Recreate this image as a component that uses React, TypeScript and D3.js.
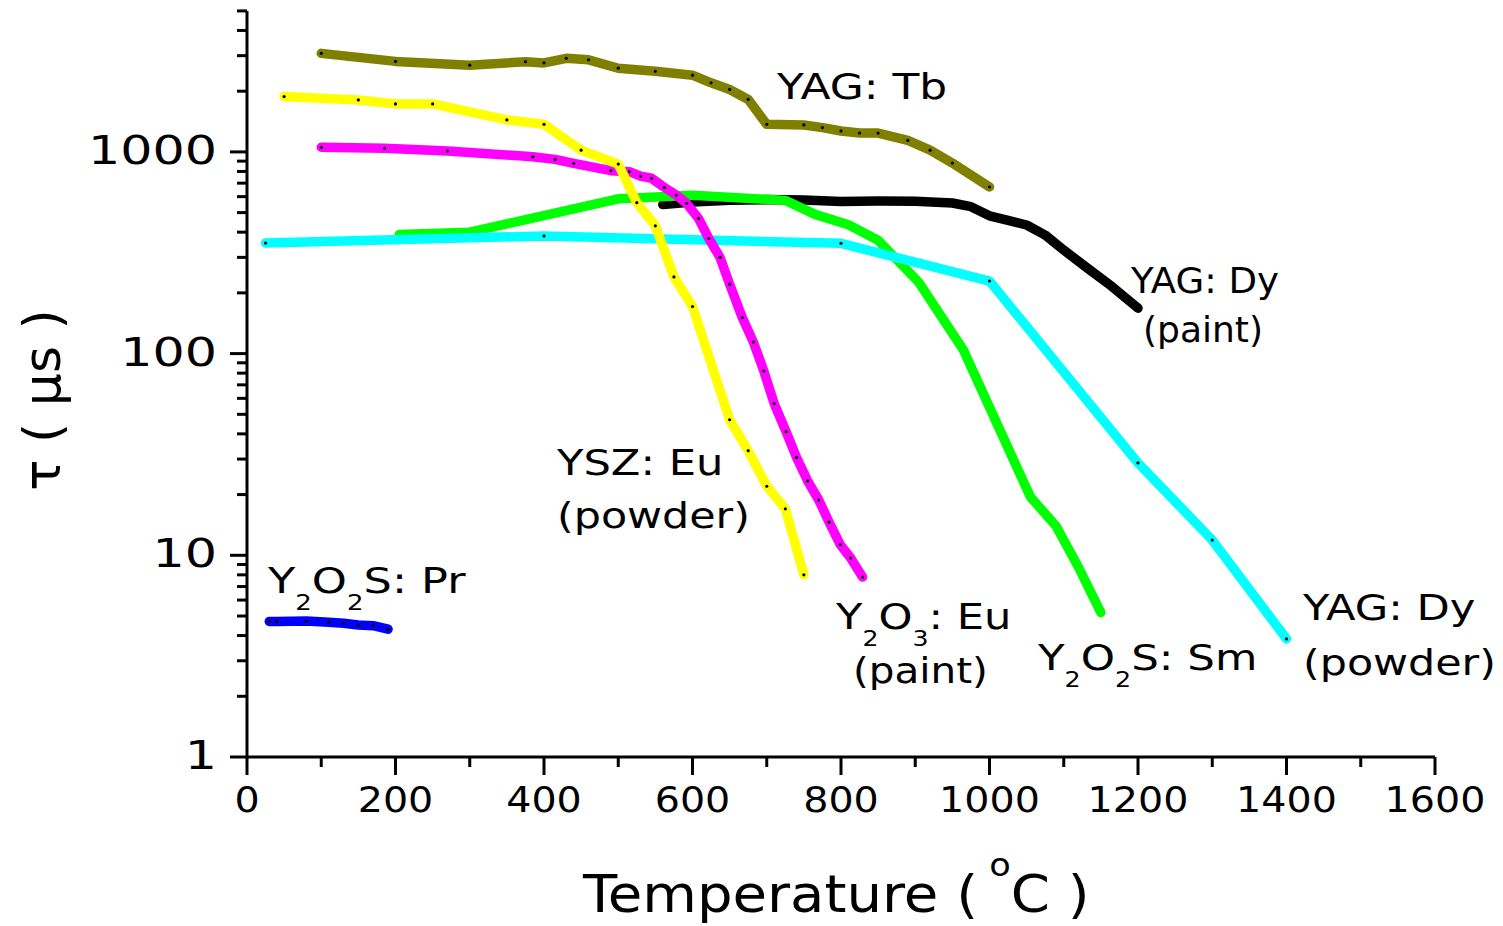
import * as d3 from 'd3';

// temperature (°C) and lifetime (µs)
const tbT = [100, 200, 300, 375, 400, 430, 460, 500, 550, 600, 625, 650, 675, 700, 750, 775, 800, 825, 850, 890, 920, 950, 1000];
const tbV = [3080, 2810, 2690, 2800, 2760, 2910, 2860, 2600, 2510, 2400, 2200, 2040, 1820, 1370, 1360, 1320, 1270, 1240, 1240, 1140, 1020, 880, 670];

const yszT = [50, 150, 200, 250, 350, 400, 450, 500, 525, 550, 575, 600, 650, 675, 700, 725, 750];
const yszV = [1880, 1810, 1730, 1730, 1440, 1370, 1020, 870, 560, 430, 240, 171, 47, 33, 22, 17, 8];

const y2o3T = [100, 185, 270, 385, 415, 440, 490, 515, 530, 545, 562, 578, 592, 608, 622, 637, 650, 667, 682, 696, 710, 726, 740, 755, 770, 784, 799, 813, 829];
const y2o3V = [1054, 1042, 1010, 946, 918, 877, 807, 798, 759, 740, 667, 611, 556, 468, 372, 300, 221, 151, 114, 82, 56.5, 41, 30.6, 23.4, 18.8, 14.6, 11.3, 9.7, 7.8];

const dyPaintT = [560, 600, 650, 700, 750, 800, 850, 900, 950, 975, 1000, 1025, 1050, 1075, 1100, 1135, 1165, 1200];
const dyPaintV = [548, 565, 575, 580, 578, 567, 571, 570, 558, 535, 482, 458, 434, 387, 326, 260, 215, 168];

const smT = [205, 300, 500, 600, 725, 765, 810, 850, 905, 965, 1055, 1090, 1120, 1150];
const smV = [390, 400, 585, 610, 575, 490, 435, 365, 225, 104, 19.5, 13.9, 8.7, 5.2];

const dyPowderT = [25, 400, 800, 1000, 1200, 1300, 1400];
const dyPowderV = [353, 383, 352, 229, 28.7, 11.9, 3.85];

const prT = [30, 40, 80, 110, 130, 150, 170, 190];
const prV = [4.7, 4.7, 4.72, 4.66, 4.6, 4.51, 4.48, 4.3];

const xTickLabels = ['0', '200', '400', '600', '800', '1000', '1200', '1400', '1600'];
const yTickLabels = ['1', '10', '100', '1000'];

const FONT = 'DejaVu Sans';

// drawn bottom to top
const series = [
  { T: dyPaintT, V: dyPaintV, color: '#000000', dots: false },
  { T: smT, V: smV, color: '#00ff00', dots: false },
  { T: dyPowderT, V: dyPowderV, color: '#00ffff', dots: true },
  { T: y2o3T, V: y2o3V, color: '#ff00ff', dots: true },
  { T: yszT, V: yszV, color: '#ffff00', dots: true },
  { T: tbT, V: tbV, color: '#808000', dots: true },
  { T: prT, V: prV, color: '#0000ff', dots: true },
];

type Part = { t: string; sub?: boolean };

function Label({ x, y, sx = 1, size = 36, parts }: { x: number; y: number; sx?: number; size?: number; parts: Part[] }) {
  return (
    <text transform={`translate(${x},${y}) scale(${sx},1)`} fontFamily={FONT} fontSize={size} fill="#000">
      {parts.map((p, i) => {
        const prev = parts[i - 1];
        let dy = 0;
        if (p.sub && !(prev && prev.sub)) dy = 17;
        if (!p.sub && prev && prev.sub) dy = -17;
        return (
          <tspan key={i} dy={dy} fontSize={p.sub ? 21 : size}>
            {p.t}
          </tspan>
        );
      })}
    </text>
  );
}

export default function App() {
  const x = d3.scaleLinear().domain([0, 1600]).range([247, 1435]);
  const y = d3.scaleLog().domain([1, 5000]).range([757, 757 - Math.log10(5000) * 201.7]);

  const line = d3
    .line<[number, number]>()
    .x(d => x(d[0]))
    .y(d => y(d[1]));

  const xMinor = d3.range(0, 1601, 100);
  const yMinor = y.ticks();

  return (
    <svg width={1503} height={926} style={{ position: 'absolute', left: 0, top: 0, background: '#fff' }}>
      {/* axes */}
      <g stroke="#000" strokeWidth={3}>
        <line x1={x(0)} x2={x(1600)} y1={y(1)} y2={y(1)} />
        <line x1={x(0)} x2={x(0)} y1={y(1) + 1.5} y2={y(5000)} />
        {xMinor.map(t => (
          <line key={'xt' + t} x1={x(t)} x2={x(t)} y1={y(1)} y2={y(1) + (t % 200 === 0 ? 18 : 10)} />
        ))}
        {yMinor.map(v => {
          const major = Math.abs(Math.log10(v) - Math.round(Math.log10(v))) < 1e-9;
          return <line key={'yt' + v} x1={x(0) - (major ? 17 : 10)} x2={x(0)} y1={y(v)} y2={y(v)} />;
        })}
      </g>

      {xTickLabels.map(l => (
        <text
          key={'xl' + l}
          transform={`translate(${x(+l)},812) scale(1.1,1)`}
          textAnchor="middle"
          fontFamily={FONT}
          fontSize={36}
        >
          {l}
        </text>
      ))}
      {yTickLabels.map(l => (
        <text
          key={'yl' + l}
          transform={`translate(217,${y(+l) + 12}) scale(1.3,1)`}
          textAnchor="end"
          fontFamily={FONT}
          fontSize={39}
        >
          {l}
        </text>
      ))}

      {/* axis titles */}
      <text transform="translate(583,912) scale(1.1,1)" fontFamily={FONT} fontSize={51}>
        Temperature (
        <tspan fontSize={32} dy={-36}> o</tspan>
        <tspan dy={36}>C )</tspan>
      </text>
      <text transform="translate(60,400) rotate(-90)" textAnchor="middle" fontFamily={FONT} fontSize={52}>
        τ ( μs )
      </text>

      {/* series */}
      {series.map((s, i) => {
        const pts: [number, number][] = s.T.map((t, j) => [t, s.V[j]]);
        return (
          <g key={'s' + i}>
            <path
              d={line(pts) || ''}
              fill="none"
              stroke={s.color}
              strokeWidth={9.5}
              strokeLinecap="round"
              strokeLinejoin="round"
            />
            {s.dots &&
              pts.map((p, j) => <circle key={j} cx={x(p[0])} cy={y(p[1])} r={1.6} fill="#000" />)}
          </g>
        );
      })}

      {/* annotations */}
      <Label x={777} y={99} sx={1.22} parts={[{ t: 'YAG: Tb' }]} />
      <Label x={1131} y={293} sx={1.03} parts={[{ t: 'YAG: Dy' }]} />
      <Label x={1143} y={342} sx={1.0} parts={[{ t: '(paint)' }]} />
      <Label x={557} y={475} sx={1.2} parts={[{ t: 'YSZ: Eu' }]} />
      <Label x={557} y={528} sx={1.19} parts={[{ t: '(powder)' }]} />
      <Label
        x={836}
        y={629}
        sx={1.2}
        parts={[{ t: 'Y' }, { t: '2', sub: true }, { t: 'O' }, { t: '3', sub: true }, { t: ': Eu' }]}
      />
      <Label x={853} y={683} sx={1.125} parts={[{ t: '(paint)' }]} />
      <Label
        x={1038}
        y={670}
        sx={1.21}
        parts={[{ t: 'Y' }, { t: '2', sub: true }, { t: 'O' }, { t: '2', sub: true }, { t: 'S: Sm' }]}
      />
      <Label x={1303} y={620} sx={1.2} parts={[{ t: 'YAG: Dy' }]} />
      <Label x={1303} y={675} sx={1.19} parts={[{ t: '(powder)' }]} />
      <Label
        x={268}
        y={593}
        sx={1.24}
        parts={[{ t: 'Y' }, { t: '2', sub: true }, { t: 'O' }, { t: '2', sub: true }, { t: 'S: Pr' }]}
      />
    </svg>
  );
}
